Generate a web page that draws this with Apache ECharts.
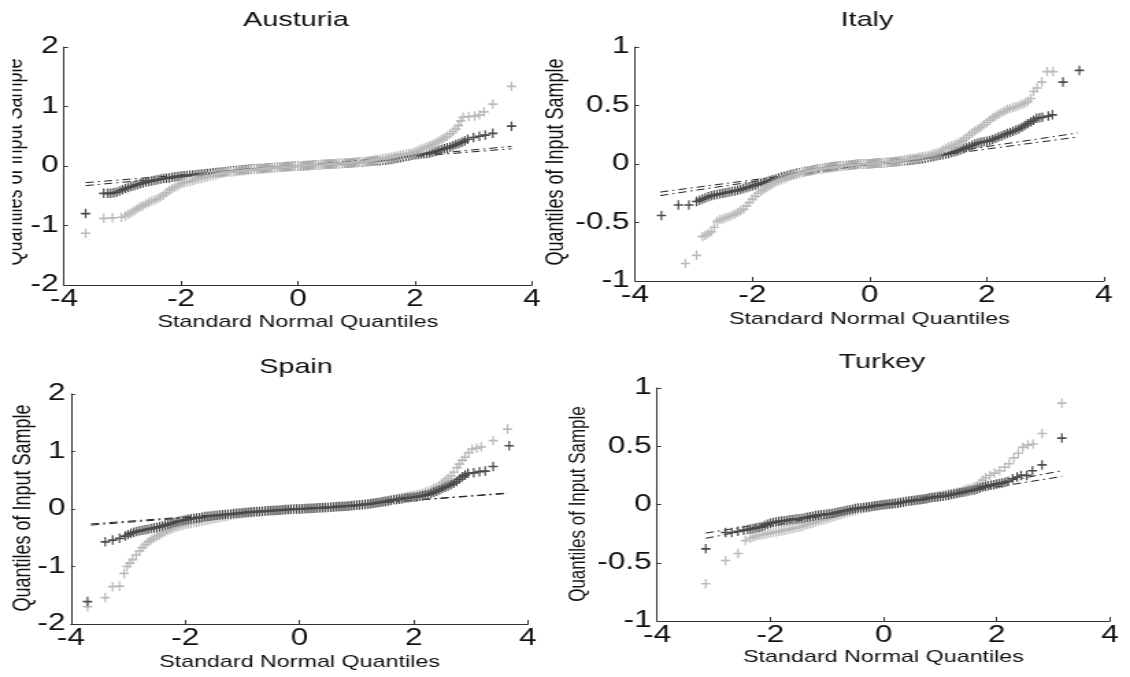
<!DOCTYPE html>
<html>
<head>
<meta charset="utf-8">
<script src="https://cdn.jsdelivr.net/npm/echarts@6/dist/echarts.min.js"></script>
<style>
  html, body { margin: 0; padding: 0; background: #fff; overflow: hidden; }
  /* the figure is laid out narrow and stretched horizontally */
  #chart { width: 825px; height: 677px; transform: scaleX(1.3697); transform-origin: 0 0; }
</style>
</head>
<body>
<div id="chart"></div>
<script>
// ---- QQ-plot data: [standard normal quantile, sample quantile] ----
const austriaDark = [[-3.63,-0.80],[-3.32,-0.46],[-3.25,-0.46],[-3.20,-0.46],[-3.15,-0.45],[-3.10,-0.44],[-3.05,-0.42],[-3.00,-0.40],[-2.95,-0.38],[-2.90,-0.36],[-2.85,-0.345],[-2.80,-0.33],[-2.75,-0.315],[-2.70,-0.30],[-2.65,-0.285],[-2.60,-0.27],[-2.55,-0.26],[-2.50,-0.25],[-2.45,-0.24],[-2.40,-0.23],[-2.35,-0.22],[-2.30,-0.21],[-2.25,-0.205],[-2.20,-0.20],[-2.15,-0.19],[-2.10,-0.18],[-2.05,-0.175],[-2.00,-0.17],[-1.95,-0.165],[-1.90,-0.16],[-1.85,-0.155],[-1.80,-0.15],[-1.75,-0.145],[-1.70,-0.14],[-1.65,-0.135],[-1.60,-0.13],[-1.55,-0.125],[-1.50,-0.12],[-1.45,-0.115],[-1.40,-0.11],[-1.35,-0.105],[-1.30,-0.10],[-1.25,-0.095],[-1.20,-0.09],[-1.15,-0.085],[-1.10,-0.08],[-1.05,-0.075],[-1.00,-0.07],[-0.95,-0.065],[-0.90,-0.06],[-0.85,-0.055],[-0.80,-0.05],[-0.75,-0.048],[-0.70,-0.045],[-0.65,-0.042],[-0.60,-0.04],[-0.55,-0.035],[-0.50,-0.03],[-0.45,-0.028],[-0.40,-0.025],[-0.35,-0.022],[-0.30,-0.02],[-0.25,-0.015],[-0.20,-0.01],[-0.15,-0.008],[-0.10,-0.005],[-0.05,-0.002],[0.00,0.00],[0.05,0.002],[0.10,0.005],[0.15,0.008],[0.20,0.01],[0.25,0.015],[0.30,0.02],[0.35,0.022],[0.40,0.025],[0.45,0.028],[0.50,0.03],[0.55,0.032],[0.60,0.035],[0.65,0.038],[0.70,0.04],[0.75,0.042],[0.80,0.045],[0.85,0.048],[0.90,0.05],[0.95,0.055],[1.00,0.06],[1.05,0.062],[1.10,0.065],[1.15,0.07],[1.20,0.075],[1.25,0.08],[1.30,0.085],[1.35,0.088],[1.40,0.09],[1.45,0.095],[1.50,0.10],[1.55,0.105],[1.60,0.11],[1.65,0.12],[1.70,0.13],[1.75,0.14],[1.80,0.15],[1.85,0.16],[1.90,0.17],[1.95,0.18],[2.00,0.19],[2.05,0.195],[2.10,0.20],[2.15,0.205],[2.20,0.21],[2.25,0.22],[2.30,0.23],[2.35,0.245],[2.40,0.26],[2.45,0.275],[2.50,0.29],[2.55,0.305],[2.60,0.32],[2.65,0.34],[2.70,0.36],[2.75,0.38],[2.80,0.40],[2.85,0.42],[2.90,0.45],[3.00,0.48],[3.10,0.50],[3.20,0.52],[3.33,0.55],[3.65,0.67]];
const austriaLight = [[-3.63,-1.13],[-3.32,-0.88],[-3.17,-0.87],[-3.02,-0.86],[-2.95,-0.84],[-2.90,-0.81],[-2.85,-0.78],[-2.80,-0.75],[-2.75,-0.72],[-2.70,-0.69],[-2.65,-0.67],[-2.60,-0.64],[-2.55,-0.61],[-2.50,-0.59],[-2.45,-0.57],[-2.40,-0.55],[-2.35,-0.52],[-2.30,-0.49],[-2.25,-0.45],[-2.20,-0.41],[-2.15,-0.38],[-2.10,-0.355],[-2.05,-0.33],[-2.00,-0.30],[-1.95,-0.28],[-1.90,-0.27],[-1.85,-0.26],[-1.80,-0.245],[-1.75,-0.23],[-1.70,-0.22],[-1.65,-0.21],[-1.60,-0.195],[-1.55,-0.18],[-1.50,-0.17],[-1.45,-0.16],[-1.40,-0.145],[-1.35,-0.13],[-1.30,-0.12],[-1.25,-0.11],[-1.20,-0.105],[-1.15,-0.10],[-1.10,-0.095],[-1.05,-0.09],[-1.00,-0.085],[-0.95,-0.08],[-0.90,-0.075],[-0.85,-0.07],[-0.80,-0.065],[-0.75,-0.06],[-0.70,-0.055],[-0.65,-0.05],[-0.60,-0.045],[-0.55,-0.04],[-0.50,-0.038],[-0.45,-0.035],[-0.40,-0.03],[-0.35,-0.025],[-0.30,-0.022],[-0.25,-0.02],[-0.20,-0.015],[-0.15,-0.01],[-0.10,-0.008],[-0.05,-0.005],[0.00,0.0],[0.05,0.005],[0.10,0.008],[0.15,0.01],[0.20,0.012],[0.25,0.015],[0.30,0.018],[0.35,0.02],[0.40,0.022],[0.45,0.025],[0.50,0.028],[0.55,0.03],[0.60,0.035],[0.65,0.04],[0.70,0.042],[0.75,0.045],[0.80,0.048],[0.85,0.05],[0.90,0.055],[0.95,0.06],[1.00,0.062],[1.05,0.065],[1.10,0.07],[1.15,0.075],[1.20,0.082],[1.25,0.09],[1.30,0.10],[1.35,0.11],[1.40,0.115],[1.45,0.12],[1.50,0.13],[1.55,0.14],[1.60,0.15],[1.65,0.16],[1.70,0.17],[1.75,0.18],[1.80,0.19],[1.85,0.20],[1.90,0.21],[1.95,0.22],[2.00,0.24],[2.05,0.26],[2.10,0.28],[2.15,0.30],[2.20,0.32],[2.25,0.34],[2.30,0.365],[2.35,0.39],[2.40,0.415],[2.45,0.44],[2.50,0.47],[2.55,0.50],[2.60,0.54],[2.65,0.58],[2.70,0.62],[2.74,0.68],[2.78,0.76],[2.82,0.82],[2.92,0.83],[3.02,0.84],[3.10,0.86],[3.18,0.91],[3.33,1.04],[3.65,1.34]];

const italyDark = [[-3.55,-0.44],[-3.26,-0.35],[-3.08,-0.35],[-2.95,-0.32],[-2.90,-0.31],[-2.85,-0.30],[-2.80,-0.29],[-2.75,-0.28],[-2.70,-0.272],[-2.65,-0.265],[-2.60,-0.26],[-2.55,-0.255],[-2.50,-0.25],[-2.45,-0.245],[-2.40,-0.24],[-2.35,-0.235],[-2.30,-0.23],[-2.25,-0.225],[-2.20,-0.218],[-2.15,-0.21],[-2.10,-0.202],[-2.05,-0.195],[-2.00,-0.188],[-1.95,-0.18],[-1.90,-0.172],[-1.85,-0.165],[-1.80,-0.158],[-1.75,-0.15],[-1.70,-0.142],[-1.65,-0.135],[-1.60,-0.128],[-1.55,-0.12],[-1.50,-0.112],[-1.45,-0.105],[-1.40,-0.098],[-1.35,-0.09],[-1.30,-0.085],[-1.25,-0.08],[-1.20,-0.075],[-1.15,-0.07],[-1.10,-0.065],[-1.05,-0.06],[-1.00,-0.055],[-0.95,-0.05],[-0.90,-0.045],[-0.85,-0.04],[-0.80,-0.038],[-0.75,-0.035],[-0.70,-0.03],[-0.65,-0.025],[-0.60,-0.022],[-0.55,-0.02],[-0.50,-0.018],[-0.45,-0.015],[-0.40,-0.012],[-0.35,-0.01],[-0.30,-0.008],[-0.25,-0.005],[-0.20,-0.002],[-0.15,0.0],[-0.10,0.0],[-0.05,0.0],[0.00,0.002],[0.05,0.005],[0.10,0.006],[0.15,0.008],[0.20,0.009],[0.25,0.01],[0.30,0.012],[0.35,0.015],[0.40,0.018],[0.45,0.02],[0.50,0.022],[0.55,0.025],[0.60,0.028],[0.65,0.03],[0.70,0.032],[0.75,0.035],[0.80,0.038],[0.85,0.04],[0.90,0.045],[0.95,0.05],[1.00,0.055],[1.05,0.06],[1.10,0.065],[1.15,0.07],[1.20,0.075],[1.25,0.08],[1.30,0.085],[1.35,0.09],[1.40,0.098],[1.45,0.105],[1.50,0.112],[1.55,0.12],[1.60,0.13],[1.65,0.14],[1.70,0.15],[1.75,0.16],[1.80,0.17],[1.85,0.18],[1.90,0.185],[1.95,0.19],[2.00,0.195],[2.05,0.20],[2.10,0.21],[2.15,0.22],[2.20,0.23],[2.25,0.24],[2.30,0.25],[2.35,0.26],[2.40,0.27],[2.45,0.28],[2.50,0.29],[2.55,0.30],[2.60,0.315],[2.65,0.33],[2.70,0.345],[2.75,0.36],[2.80,0.375],[2.85,0.39],[2.90,0.395],[2.95,0.40],[3.05,0.41],[3.12,0.42],[3.30,0.70],[3.58,0.80]];
const italyLight = [[-3.14,-0.85],[-2.95,-0.78],[-2.85,-0.62],[-2.80,-0.61],[-2.75,-0.595],[-2.70,-0.58],[-2.65,-0.54],[-2.60,-0.49],[-2.55,-0.475],[-2.50,-0.47],[-2.45,-0.46],[-2.40,-0.45],[-2.35,-0.44],[-2.30,-0.43],[-2.25,-0.415],[-2.20,-0.40],[-2.15,-0.385],[-2.10,-0.36],[-2.05,-0.33],[-2.00,-0.30],[-1.95,-0.275],[-1.90,-0.25],[-1.85,-0.23],[-1.80,-0.215],[-1.75,-0.20],[-1.70,-0.185],[-1.65,-0.17],[-1.60,-0.155],[-1.55,-0.145],[-1.50,-0.135],[-1.45,-0.125],[-1.40,-0.115],[-1.35,-0.105],[-1.30,-0.097],[-1.25,-0.09],[-1.20,-0.082],[-1.15,-0.075],[-1.10,-0.068],[-1.05,-0.062],[-1.00,-0.058],[-0.95,-0.053],[-0.90,-0.048],[-0.85,-0.043],[-0.80,-0.04],[-0.75,-0.037],[-0.70,-0.034],[-0.65,-0.031],[-0.60,-0.028],[-0.55,-0.024],[-0.50,-0.02],[-0.45,-0.017],[-0.40,-0.014],[-0.35,-0.012],[-0.30,-0.01],[-0.25,-0.007],[-0.20,-0.005],[-0.15,-0.002],[-0.10,0.0],[-0.05,0.0],[0.00,0.002],[0.05,0.004],[0.10,0.006],[0.15,0.008],[0.20,0.01],[0.25,0.013],[0.30,0.015],[0.35,0.018],[0.40,0.02],[0.45,0.023],[0.50,0.026],[0.55,0.03],[0.60,0.036],[0.65,0.042],[0.70,0.046],[0.75,0.049],[0.80,0.052],[0.85,0.057],[0.90,0.062],[0.95,0.067],[1.00,0.073],[1.05,0.08],[1.10,0.088],[1.15,0.095],[1.20,0.105],[1.25,0.12],[1.30,0.135],[1.35,0.145],[1.40,0.155],[1.45,0.165],[1.50,0.175],[1.55,0.19],[1.60,0.205],[1.65,0.225],[1.70,0.245],[1.75,0.265],[1.80,0.285],[1.85,0.30],[1.90,0.315],[1.95,0.335],[2.00,0.355],[2.05,0.375],[2.10,0.395],[2.15,0.41],[2.20,0.425],[2.25,0.44],[2.30,0.45],[2.35,0.465],[2.40,0.475],[2.45,0.485],[2.50,0.49],[2.55,0.50],[2.60,0.51],[2.65,0.52],[2.70,0.535],[2.75,0.56],[2.80,0.62],[2.86,0.65],[2.94,0.70],[3.03,0.79],[3.13,0.79]];

const spainDark = [[-3.71,-1.61],[-3.40,-0.57],[-3.27,-0.54],[-3.15,-0.51],[-3.05,-0.47],[-3.00,-0.445],[-2.95,-0.42],[-2.90,-0.405],[-2.85,-0.39],[-2.80,-0.38],[-2.75,-0.37],[-2.70,-0.36],[-2.65,-0.35],[-2.60,-0.34],[-2.55,-0.33],[-2.50,-0.32],[-2.45,-0.31],[-2.40,-0.295],[-2.35,-0.28],[-2.30,-0.265],[-2.25,-0.25],[-2.20,-0.235],[-2.15,-0.22],[-2.10,-0.21],[-2.05,-0.20],[-2.00,-0.19],[-1.95,-0.18],[-1.90,-0.17],[-1.85,-0.16],[-1.80,-0.155],[-1.75,-0.15],[-1.70,-0.14],[-1.65,-0.13],[-1.60,-0.125],[-1.55,-0.12],[-1.50,-0.115],[-1.45,-0.11],[-1.40,-0.105],[-1.35,-0.10],[-1.30,-0.095],[-1.25,-0.09],[-1.20,-0.085],[-1.15,-0.08],[-1.10,-0.075],[-1.05,-0.07],[-1.00,-0.065],[-0.95,-0.06],[-0.90,-0.055],[-0.85,-0.05],[-0.80,-0.048],[-0.75,-0.045],[-0.70,-0.042],[-0.65,-0.04],[-0.60,-0.035],[-0.55,-0.03],[-0.50,-0.028],[-0.45,-0.025],[-0.40,-0.022],[-0.35,-0.02],[-0.30,-0.015],[-0.25,-0.01],[-0.20,-0.008],[-0.15,-0.005],[-0.10,-0.002],[-0.05,0.0],[0.00,0.002],[0.05,0.005],[0.10,0.008],[0.15,0.01],[0.20,0.012],[0.25,0.015],[0.30,0.018],[0.35,0.02],[0.40,0.022],[0.45,0.025],[0.50,0.028],[0.55,0.03],[0.60,0.035],[0.65,0.04],[0.70,0.042],[0.75,0.045],[0.80,0.048],[0.85,0.05],[0.90,0.055],[0.95,0.06],[1.00,0.065],[1.05,0.07],[1.10,0.075],[1.15,0.08],[1.20,0.085],[1.25,0.09],[1.30,0.10],[1.35,0.11],[1.40,0.115],[1.45,0.12],[1.50,0.13],[1.55,0.14],[1.60,0.15],[1.65,0.16],[1.70,0.165],[1.75,0.17],[1.80,0.18],[1.85,0.19],[1.90,0.195],[1.95,0.20],[2.00,0.205],[2.05,0.21],[2.10,0.22],[2.15,0.23],[2.20,0.24],[2.25,0.25],[2.30,0.27],[2.35,0.29],[2.40,0.31],[2.45,0.33],[2.50,0.355],[2.55,0.38],[2.60,0.40],[2.65,0.42],[2.70,0.45],[2.75,0.48],[2.80,0.52],[2.85,0.56],[2.90,0.59],[2.95,0.62],[3.05,0.63],[3.15,0.65],[3.25,0.66],[3.39,0.74],[3.67,1.10]];
const spainLight = [[-3.71,-1.70],[-3.40,-1.54],[-3.27,-1.35],[-3.15,-1.34],[-3.07,-1.12],[-3.02,-1.00],[-2.97,-0.94],[-2.92,-0.88],[-2.86,-0.80],[-2.80,-0.73],[-2.75,-0.67],[-2.70,-0.62],[-2.65,-0.575],[-2.60,-0.54],[-2.55,-0.51],[-2.50,-0.48],[-2.45,-0.455],[-2.40,-0.42],[-2.35,-0.395],[-2.30,-0.37],[-2.25,-0.35],[-2.20,-0.33],[-2.15,-0.315],[-2.10,-0.30],[-2.05,-0.285],[-2.00,-0.27],[-1.95,-0.26],[-1.90,-0.25],[-1.85,-0.24],[-1.80,-0.23],[-1.75,-0.22],[-1.70,-0.21],[-1.65,-0.20],[-1.60,-0.19],[-1.55,-0.18],[-1.50,-0.17],[-1.45,-0.16],[-1.40,-0.15],[-1.35,-0.14],[-1.30,-0.13],[-1.25,-0.12],[-1.20,-0.11],[-1.15,-0.10],[-1.10,-0.095],[-1.05,-0.088],[-1.00,-0.08],[-0.95,-0.075],[-0.90,-0.07],[-0.85,-0.065],[-0.80,-0.06],[-0.75,-0.055],[-0.70,-0.05],[-0.65,-0.045],[-0.60,-0.04],[-0.55,-0.035],[-0.50,-0.03],[-0.45,-0.028],[-0.40,-0.025],[-0.35,-0.022],[-0.30,-0.02],[-0.25,-0.015],[-0.20,-0.01],[-0.15,-0.008],[-0.10,-0.005],[-0.05,-0.002],[0.00,0.0],[0.05,0.002],[0.10,0.005],[0.15,0.008],[0.20,0.01],[0.25,0.015],[0.30,0.02],[0.35,0.022],[0.40,0.025],[0.45,0.028],[0.50,0.03],[0.55,0.035],[0.60,0.04],[0.65,0.042],[0.70,0.045],[0.75,0.048],[0.80,0.05],[0.85,0.055],[0.90,0.06],[0.95,0.065],[1.00,0.07],[1.05,0.075],[1.10,0.08],[1.15,0.085],[1.20,0.09],[1.25,0.10],[1.30,0.11],[1.35,0.115],[1.40,0.12],[1.45,0.13],[1.50,0.14],[1.55,0.15],[1.60,0.16],[1.65,0.17],[1.70,0.18],[1.75,0.19],[1.80,0.20],[1.85,0.21],[1.90,0.22],[1.95,0.23],[2.00,0.24],[2.05,0.25],[2.10,0.26],[2.15,0.275],[2.20,0.29],[2.25,0.31],[2.30,0.33],[2.35,0.355],[2.40,0.38],[2.45,0.41],[2.50,0.455],[2.55,0.495],[2.60,0.53],[2.65,0.575],[2.70,0.64],[2.76,0.72],[2.80,0.78],[2.85,0.85],[2.90,0.90],[2.96,0.98],[3.02,1.04],[3.10,1.06],[3.18,1.08],[3.39,1.19],[3.64,1.39]];

const turkeyDark = [[-3.14,-0.38],[-2.79,-0.24],[-2.68,-0.24],[-2.57,-0.23],[-2.47,-0.22],[-2.40,-0.215],[-2.35,-0.21],[-2.30,-0.205],[-2.25,-0.20],[-2.20,-0.195],[-2.15,-0.19],[-2.10,-0.18],[-2.05,-0.17],[-2.00,-0.16],[-1.95,-0.155],[-1.90,-0.15],[-1.85,-0.145],[-1.80,-0.142],[-1.75,-0.14],[-1.70,-0.135],[-1.65,-0.13],[-1.60,-0.128],[-1.55,-0.125],[-1.50,-0.122],[-1.45,-0.12],[-1.40,-0.115],[-1.35,-0.11],[-1.30,-0.105],[-1.25,-0.10],[-1.20,-0.095],[-1.15,-0.09],[-1.10,-0.088],[-1.05,-0.085],[-1.00,-0.082],[-0.95,-0.08],[-0.90,-0.075],[-0.85,-0.07],[-0.80,-0.065],[-0.75,-0.06],[-0.70,-0.055],[-0.65,-0.05],[-0.60,-0.045],[-0.55,-0.04],[-0.50,-0.035],[-0.45,-0.03],[-0.40,-0.028],[-0.35,-0.025],[-0.30,-0.022],[-0.25,-0.02],[-0.20,-0.015],[-0.15,-0.01],[-0.10,-0.008],[-0.05,-0.005],[0.00,-0.002],[0.05,0.0],[0.10,0.003],[0.15,0.005],[0.20,0.008],[0.25,0.01],[0.30,0.015],[0.35,0.02],[0.40,0.025],[0.45,0.03],[0.50,0.033],[0.55,0.035],[0.60,0.038],[0.65,0.04],[0.70,0.045],[0.75,0.05],[0.80,0.055],[0.85,0.06],[0.90,0.063],[0.95,0.065],[1.00,0.068],[1.05,0.07],[1.10,0.075],[1.15,0.08],[1.20,0.085],[1.25,0.09],[1.30,0.095],[1.35,0.10],[1.40,0.105],[1.45,0.11],[1.50,0.115],[1.55,0.12],[1.60,0.125],[1.65,0.13],[1.70,0.14],[1.75,0.15],[1.80,0.155],[1.85,0.16],[1.90,0.165],[1.95,0.17],[2.00,0.175],[2.05,0.18],[2.10,0.185],[2.15,0.19],[2.20,0.20],[2.28,0.22],[2.36,0.235],[2.43,0.25],[2.53,0.25],[2.63,0.29],[2.80,0.34],[3.15,0.57]];
const turkeyLight = [[-3.14,-0.68],[-2.79,-0.48],[-2.57,-0.42],[-2.44,-0.31],[-2.35,-0.29],[-2.30,-0.28],[-2.25,-0.27],[-2.20,-0.265],[-2.15,-0.26],[-2.10,-0.255],[-2.05,-0.25],[-2.00,-0.245],[-1.95,-0.24],[-1.90,-0.235],[-1.85,-0.23],[-1.80,-0.225],[-1.75,-0.22],[-1.70,-0.215],[-1.65,-0.21],[-1.60,-0.205],[-1.55,-0.20],[-1.50,-0.195],[-1.45,-0.19],[-1.40,-0.18],[-1.35,-0.17],[-1.30,-0.165],[-1.25,-0.16],[-1.20,-0.15],[-1.15,-0.14],[-1.10,-0.135],[-1.05,-0.13],[-1.00,-0.122],[-0.95,-0.115],[-0.90,-0.108],[-0.85,-0.10],[-0.80,-0.092],[-0.75,-0.085],[-0.70,-0.078],[-0.65,-0.07],[-0.60,-0.065],[-0.55,-0.06],[-0.50,-0.052],[-0.45,-0.045],[-0.40,-0.04],[-0.35,-0.035],[-0.30,-0.03],[-0.25,-0.025],[-0.20,-0.02],[-0.15,-0.015],[-0.10,-0.01],[-0.05,-0.005],[0.00,0.0],[0.05,0.005],[0.10,0.008],[0.15,0.01],[0.20,0.015],[0.25,0.02],[0.30,0.022],[0.35,0.025],[0.40,0.028],[0.45,0.03],[0.50,0.035],[0.55,0.04],[0.60,0.042],[0.65,0.045],[0.70,0.048],[0.75,0.05],[0.80,0.055],[0.85,0.06],[0.90,0.065],[0.95,0.07],[1.00,0.075],[1.05,0.08],[1.10,0.085],[1.15,0.09],[1.20,0.095],[1.25,0.10],[1.30,0.105],[1.35,0.11],[1.40,0.12],[1.45,0.13],[1.50,0.135],[1.55,0.14],[1.60,0.15],[1.65,0.16],[1.70,0.18],[1.75,0.21],[1.80,0.23],[1.88,0.25],[1.96,0.27],[2.05,0.29],[2.14,0.32],[2.22,0.35],[2.30,0.40],[2.38,0.44],[2.46,0.49],[2.55,0.51],[2.64,0.52],[2.80,0.61],[3.15,0.87]];

// fitted reference lines (end points), one per sample
const austriaRefDark  = [[-3.63,-0.33],[3.65,0.33]];
const austriaRefLight = [[-3.63,-0.28],[3.65,0.29]];
const italyRefDark    = [[-3.57,-0.27],[3.55,0.265]];
const italyRefLight   = [[-3.57,-0.24],[3.55,0.23]];
const spainRefDark    = [[-3.65,-0.28],[3.65,0.28]];
const spainRefLight   = [[-3.65,-0.26],[3.65,0.27]];
const turkeyRefDark   = [[-3.14,-0.29],[3.15,0.29]];
const turkeyRefLight  = [[-3.14,-0.245],[3.15,0.24]];

// axis ranges: [min, max, interval]
const xRange = [-4, 4, 2];
const austriaYRange = [-2, 2, 1];
const italyYRange   = [-1, 1, 0.5];
const spainYRange   = [-2, 2, 1];
const turkeyYRange  = [-1, 1, 0.5];

const panelTitles = ['Austuria', 'Italy', 'Spain', 'Turkey'];
const xAxisName = 'Standard Normal Quantiles';
const yAxisName = 'Quantiles of Input Sample';

// ---- styling / layout ----
const FONT = 'Liberation Sans, Arial, sans-serif';
const DARK = '#4a4a4a';
const LIGHT = '#bdb9b6';
const PLUS = 'path://M0,5H12V7.1H0Z M4.95,0H7.05V12H4.95Z';

const panels = [
  { title: panelTitles[0], dark: austriaDark, light: austriaLight, refs: [austriaRefDark, austriaRefLight], y: austriaYRange,
    grid: { left: 46.7, top: 47, width: 341.7, height: 238 }, lightOnTop: true,
    titlePos: [216.1, 20], yNamePos: [11, 162], yNameSize: 18, nameGap: 29 },
  { title: panelTitles[1], dark: italyDark, light: italyLight, refs: [italyRefDark, italyRefLight], y: italyYRange,
    grid: { left: 463.6, top: 47, width: 342.4, height: 234 }, lightOnTop: true,
    titlePos: [633.0, 20], yNamePos: [405.9, 162], yNameSize: 18, nameGap: 30 },
  { title: panelTitles[2], dark: spainDark, light: spainLight, refs: [spainRefDark, spainRefLight], y: spainYRange,
    grid: { left: 51.8, top: 394, width: 333.7, height: 230 }, lightOnTop: false,
    titlePos: [216.1, 367], yNamePos: [16.8, 508], yNameSize: 18, nameGap: 30 },
  { title: panelTitles[3], dark: turkeyDark, light: turkeyLight, refs: [turkeyRefDark, turkeyRefLight], y: turkeyYRange,
    grid: { left: 479.7, top: 388, width: 330.7, height: 233 }, lightOnTop: false,
    titlePos: [643.9, 362], yNamePos: [422, 504], yNameSize: 17, nameGap: 28 }
];

const axisLine = { show: true, onZero: false, lineStyle: { color: '#333', width: 1 } };
const grids = [], xAxes = [], yAxes = [], series = [], graphics = [];

panels.forEach((p, i) => {
  grids.push(Object.assign({ containLabel: false }, p.grid));
  xAxes.push({
    type: 'value', gridIndex: i, min: xRange[0], max: xRange[1], interval: xRange[2],
    axisLine, axisTick: { show: true, inside: true, length: 4, lineStyle: { color: '#333' } },
    axisLabel: { fontSize: 23, fontFamily: FONT, color: '#111', margin: 3 },
    splitLine: { show: false },
    name: xAxisName, nameLocation: 'middle', nameGap: p.nameGap,
    nameTextStyle: { fontSize: 17, fontFamily: FONT, color: '#111' }
  });
  yAxes.push({
    type: 'value', gridIndex: i, min: p.y[0], max: p.y[1], interval: p.y[2],
    axisLine, axisTick: { show: true, inside: true, length: 3, lineStyle: { color: '#333' } },
    axisLabel: { fontSize: 23, fontFamily: FONT, color: '#111', margin: 4 },
    splitLine: { show: false }
  });

  // reference lines (dash-dot)
  p.refs.forEach(r => series.push({
    type: 'line', xAxisIndex: i, yAxisIndex: i, data: r, symbol: 'none', z: 1,
    lineStyle: { color: '#222', width: 1, type: [6, 3, 1.5, 3] }, silent: true
  }));

  const mk = (data, color, z) => ({
    type: 'scatter', xAxisIndex: i, yAxisIndex: i, data, symbol: PLUS,
    symbolSize: [6.8, 9.5], z, itemStyle: { color, opacity: 1 }, silent: true
  });
  if (p.lightOnTop) { series.push(mk(p.dark, DARK, 2)); series.push(mk(p.light, LIGHT, 3)); }
  else { series.push(mk(p.light, LIGHT, 2)); series.push(mk(p.dark, DARK, 3)); }

  graphics.push({
    type: 'text', x: p.titlePos[0], y: p.titlePos[1], z: 10,
    style: { text: p.title, fontSize: 21, fontFamily: FONT, fill: '#111', textAlign: 'center', textVerticalAlign: 'middle' }
  });
  graphics.push({
    type: 'text', x: p.yNamePos[0], y: p.yNamePos[1], rotation: Math.PI / 2, z: 10,
    style: { text: yAxisName, fontSize: p.yNameSize, fontFamily: FONT, fill: '#111', textAlign: 'center', textVerticalAlign: 'middle' }
  });
});

// left edge of the first panel's axis title is trimmed by the page margin
graphics.push({ type: 'rect', shape: { x: 0, y: 40, width: 9.1, height: 250 }, style: { fill: '#fff' }, z: 20 });

const chart = echarts.init(document.getElementById('chart'), null, { renderer: 'canvas' });
chart.setOption({
  animation: false,
  backgroundColor: '#fff',
  grid: grids, xAxis: xAxes, yAxis: yAxes, series, graphic: graphics
});
</script>
</body>
</html>
